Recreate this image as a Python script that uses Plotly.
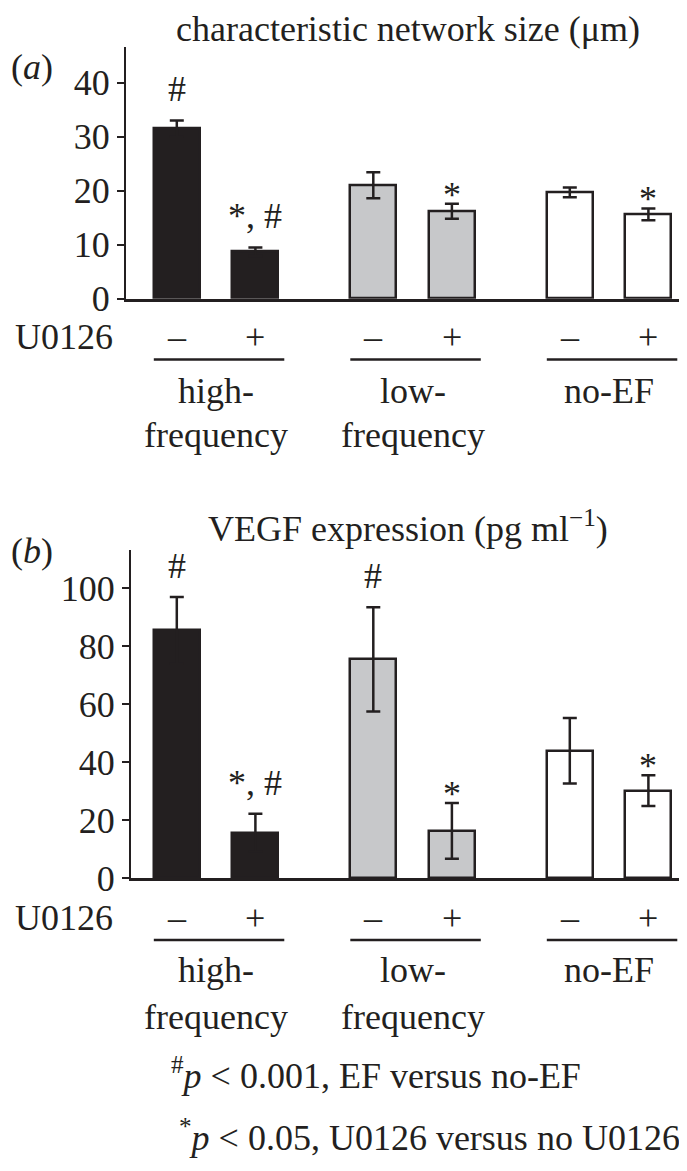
import plotly.graph_objects as go

# ---- data ----
groups = ["high-<br>frequency", "low-<br>frequency", "no-EF"]
u0126 = ["–", "+", "–", "+", "–", "+"]
size_vals = [31.5, 8.7, 21.0, 16.2, 19.7, 15.6]
size_err = [1.5, 0.8, 2.4, 1.4, 0.9, 1.1]
size_marks = ["#", "*, #", "", "*", "", "*"]
vegf_vals = [85.5, 15.7, 75.5, 16.3, 44.0, 30.2]
vegf_err = [11.5, 6.5, 18.0, 9.6, 11.3, 5.3]
vegf_marks = ["#", "*, #", "#", "*", "", "*"]
size_ticks = [0, 10, 20, 30, 40]
vegf_ticks = [0, 20, 40, 60, 80, 100]

# ---- styling / layout (page pixel coordinates) ----
W, H = 687, 1171
INK = "#231f20"
GRAY = "#c7c8ca"
FONT = "Liberation Serif, Times New Roman, serif"
FS = 36
fills = [INK, INK, GRAY, GRAY, "white", "white"]
pos = [0, 0.4, 1, 1.4, 2, 2.4]
group_pos = [0.2, 1.2, 2.2]
BW = 0.234
X0, SX = 168.8, 196.5          # page px of position 0, px per unit
RIGHT = W

def px_(x):
    return x / W

def py(y):
    return 1 - y / H

def xr(left):
    return [(left - X0) / SX, (RIGHT - X0) / SX]

def txt(text, x, y, xref, yref, xanchor="center", yanchor="middle", yshift=0):
    return dict(text=text, x=x, y=y, xref=xref, yref=yref, xanchor=xanchor, yanchor=yanchor,
                yshift=yshift, showarrow=False, font=dict(family=FONT, size=FS, color=INK))

fig = go.Figure()

panels = [
    dict(vals=size_vals, err=size_err, marks=size_marks, ticks=size_ticks,
         xa="x", ya="y", left=118, yrange=[0, (296 - 40) / 5.5],
         ybot=296, ytop=40,
         title="characteristic network size (μm)", title_y=21, label="(<i>a</i>)", label_y=60,
         u_y=335, line_y=358, g1_y=390, g2_y=435),
    dict(vals=vegf_vals, err=vegf_err, marks=vegf_marks, ticks=vegf_ticks,
         xa="x2", ya="y2", left=123, yrange=[0, (886 - 552) / 2.95],
         ybot=886, ytop=552,
         title="VEGF expression (pg ml<sup>−1</sup>)", title_y=528, label="(<i>b</i>)", label_y=553,
         u_y=927, line_y=949, g1_y=980, g2_y=1027),
]

annotations = []
shapes = []
for i, p in enumerate(panels):
    fig.add_trace(go.Bar(
        x=pos, y=p["vals"], width=BW, xaxis=p["xa"], yaxis=p["ya"],
        marker=dict(color=fills, line=dict(color=INK, width=2.5)),
        error_y=dict(type="data", array=p["err"], visible=True, color=INK,
                     thickness=2.5, width=7),
        showlegend=False, hoverinfo="skip",
    ))
    axname = "" if i == 0 else "2"
    fig.update_layout(**{
        f"xaxis{axname}": dict(domain=[px_(p["left"]), 1], range=xr(p["left"]), showline=True,
                              linecolor=INK, linewidth=2.5, showticklabels=False,
                              ticks="", showgrid=False, zeroline=False, fixedrange=True,
                              anchor=p["ya"]),
        f"yaxis{axname}": dict(domain=[py(p["ybot"]), py(p["ytop"])], range=p["yrange"], showline=True,
                              linecolor=INK, linewidth=2, tickvals=p["ticks"],
                              ticks="outside", ticklen=7, tickwidth=2, tickcolor=INK,
                              showgrid=False, zeroline=False, fixedrange=True,
                              tickfont=dict(family=FONT, size=FS, color=INK),
                              anchor=p["xa"]),
    })
    annotations.append(txt(p["title"], px_(400), py(p["title_y"]), "paper", "paper"))
    annotations.append(txt(p["label"], px_(1), py(p["label_y"]), "paper", "paper", xanchor="left"))
    for xv, v, e, m in zip(pos, p["vals"], p["err"], p["marks"]):
        if not m:
            continue
        shift = 31 if "#" in m else 9
        annotations.append(txt(m, xv, v + e, p["xa"], p["ya"], yshift=shift))
    annotations.append(txt("U0126", px_(107), py(p["u_y"]), "paper", "paper", xanchor="right"))
    for xv, s in zip(pos, u0126):
        annotations.append(txt(s, xv, py(p["u_y"]), p["xa"], "paper"))
    for gp, g in zip(group_pos, groups):
        shapes.append(dict(type="line", xref=p["xa"], yref="paper",
                           x0=gp - 0.2 - BW / 2, x1=gp + 0.2 + BW / 2 + 0.03,
                           y0=py(p["line_y"]), y1=py(p["line_y"]),
                           line=dict(color=INK, width=2.5)))
        top, _, bot = g.partition("<br>")
        annotations.append(txt(top, gp, py(p["g1_y"]), p["xa"], "paper"))
        if bot:
            annotations.append(txt(bot, gp, py(p["g2_y"]), p["xa"], "paper"))

annotations.append(txt("<sup>#</sup><i>p</i> < 0.001, EF versus no-EF", px_(368), py(1085), "paper", "paper"))
annotations.append(txt("<sup>*</sup><i>p</i> < 0.05, U0126 versus no U0126", px_(421), py(1148), "paper", "paper"))

fig.update_layout(
    width=W, height=H, margin=dict(l=0, r=0, t=0, b=0),
    paper_bgcolor="white", plot_bgcolor="white",
    annotations=annotations, shapes=shapes, bargap=0,
)

fig.write_html("out.html")
